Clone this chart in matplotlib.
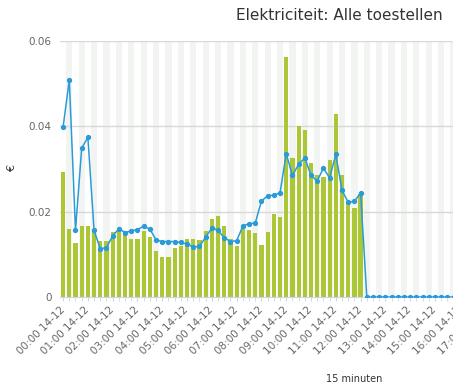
import matplotlib
matplotlib.use('Agg')
import matplotlib.pyplot as plt
import numpy as np

# 15-minute slots on 14-12, only the first 49 have data
bar_values = [0.0293, 0.0159, 0.0127, 0.0166, 0.0166, 0.0156, 0.0131, 0.0131,
              0.0153, 0.0155, 0.0148, 0.0137, 0.0136, 0.0155, 0.0141, 0.0108,
              0.0093, 0.0093, 0.0116, 0.0119, 0.0137, 0.0137, 0.0133, 0.0155,
              0.0182, 0.0189, 0.0166, 0.0135, 0.0119, 0.0164, 0.0156, 0.0150,
              0.0121, 0.0152, 0.0194, 0.0187, 0.0562, 0.0326, 0.0400, 0.0391,
              0.0313, 0.0287, 0.0281, 0.0320, 0.0428, 0.0285, 0.0220, 0.0208,
              0.0242]
line_values = [0.0398, 0.0509, 0.0156, 0.0349, 0.0374, 0.0156, 0.0113, 0.0116,
               0.0143, 0.0160, 0.0151, 0.0155, 0.0158, 0.0166, 0.0159, 0.0134,
               0.0130, 0.0130, 0.0130, 0.0128, 0.0124, 0.0117, 0.0119, 0.0140,
               0.0162, 0.0156, 0.0139, 0.0130, 0.0132, 0.0166, 0.0172, 0.0173,
               0.0225, 0.0237, 0.0239, 0.0244, 0.0336, 0.0285, 0.0311, 0.0326,
               0.0285, 0.0272, 0.0302, 0.0279, 0.0334, 0.0250, 0.0222, 0.0224,
               0.0244]
n_slots = 96
line_values = line_values + [0.0] * (n_slots - len(line_values))
hours = list(range(24))
tick_labels = [f'{h:02d}:00 14-12' for h in hours]
y_ticks = [0, 0.02, 0.04, 0.06]
y_tick_labels = ['0', '0.02', '0.04', '0.06']

W, H = 453, 387
fig = plt.figure(figsize=(W / 100, H / 100), dpi=100)
# plot area runs past the right edge of the picture (chart is cropped)
ax = fig.add_axes([60 / W, (H - 297) / H, 595 / W, 256 / H])

# alternating column bands
for i in range(1, n_slots, 2):
    ax.axvspan(i - 0.5, i + 0.5, color='#f2f4f1', lw=0, zorder=0)

for y in y_ticks[1:]:
    ax.axhline(y, color='#d8d8d8', lw=1, zorder=1)

ax.bar(range(len(bar_values)), bar_values, width=0.68, color='#abc736', zorder=2)
ax.plot(range(n_slots), line_values, color='#2b9bd8', lw=1.1, marker='o',
        markersize=2.8, zorder=3)

ax.set_xlim(-0.5, n_slots - 0.5)
ax.set_ylim(0, 0.06)
for s in ['top', 'right', 'left']:
    ax.spines[s].set_visible(False)
ax.spines['bottom'].set_color('#ccd6eb')

ax.set_yticks(y_ticks)
ax.set_yticklabels(y_tick_labels)
ax.tick_params(axis='y', length=0, pad=6, labelsize=7.5, labelcolor='#666666')

ax.set_xticks([4 * h for h in hours])
ax.set_xticks(range(n_slots), minor=True)
ax.set_xticklabels(tick_labels, rotation=45, ha='right', va='center',
                   rotation_mode='anchor')
ax.tick_params(axis='x', which='both', length=3, color='#ccd6eb')
ax.tick_params(axis='x', labelsize=7.5, labelcolor='#666666', pad=5)

fig.text(443 / W, 1 - 15 / H, 'Elektriciteit: Alle toestellen', ha='right',
         va='center', fontsize=11, color='#333333')
fig.text(12 / W, 1 - 168 / H, '€', ha='center', va='center', rotation=90,
         fontsize=8, color='#333333')
fig.text(354 / W, 1 - 379 / H, '15 minuten', ha='center', va='center',
         fontsize=7, color='#333333')

fig.savefig('out.png', dpi=100)
